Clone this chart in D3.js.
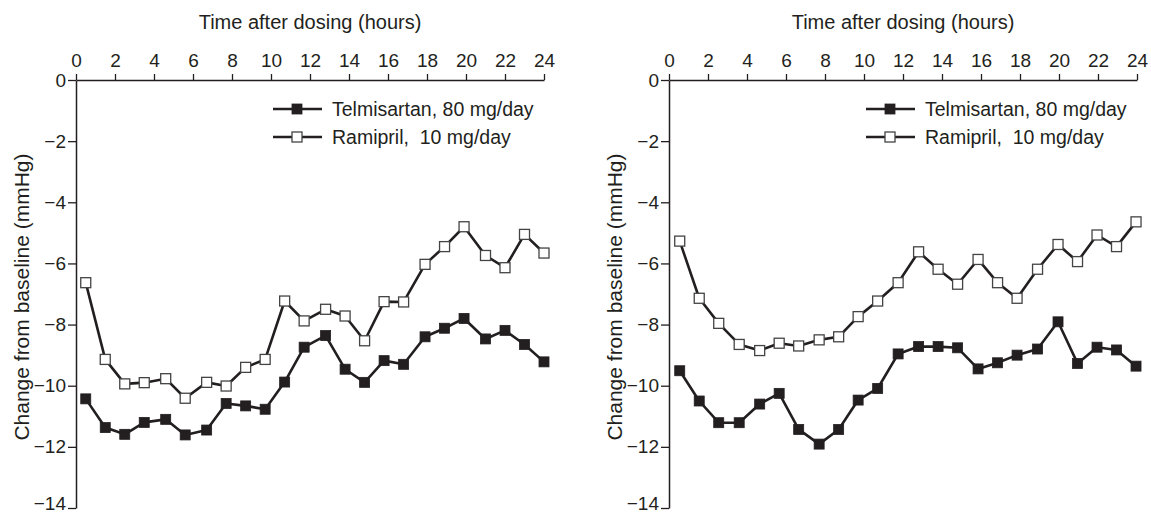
<!DOCTYPE html>
<html lang="en">
<head>
  <meta charset="UTF-8">
  <title>Telmisartan vs Ramipril</title>
  <script src="https://d3js.org/d3.v7.min.js"></script>
  <style>
    body {
      margin: 0;
      background: #fff;
      font-family: 'Liberation Sans', Arial, sans-serif;
    }
    .tick text { font-size: 19px; fill: #231f20; }
  </style>
</head>
<body>
  <svg id="chart" width="1151" height="514"></svg>

  <script>
    // Data
    const hoursLeft = [0.5, 1.5, 2.5, 3.5, 4.6, 5.6, 6.7, 7.7, 8.7, 9.7, 10.7, 11.7,
      12.8, 13.8, 14.8, 15.8, 16.8, 17.9, 18.9, 19.9, 21.0, 22.0, 23.0, 24.0];
    const hoursRight = [0.55, 1.55, 2.55, 3.6, 4.65, 5.65, 6.65, 7.7, 8.7, 9.7, 10.7, 11.75,
      12.8, 13.8, 14.8, 15.85, 16.85, 17.85, 18.9, 19.95, 20.95, 21.95, 22.95, 23.95];

    const telmiLeft = [-10.43, -11.37, -11.59, -11.2, -11.1, -11.61, -11.45, -10.58, -10.66, -10.77,
      -9.88, -8.74, -8.36, -9.46, -9.89, -9.18, -9.3, -8.4, -8.12, -7.8, -8.47, -8.19, -8.65, -9.22];
    const ramiLeft = [-6.63, -9.14, -9.94, -9.9, -9.77, -10.41, -9.89, -10.01, -9.4, -9.14,
      -7.23, -7.88, -7.5, -7.72, -8.53, -7.25, -7.26, -6.03, -5.45, -4.8, -5.74, -6.14, -5.05, -5.66];

    const telmiRight = [-9.51, -10.5, -11.21, -11.21, -10.6, -10.25, -11.43, -11.91, -11.43, -10.47,
      -10.09, -8.96, -8.72, -8.72, -8.76, -9.45, -9.25, -9.0, -8.8, -7.91, -9.27, -8.74, -8.83, -9.36];
    const ramiRight = [-5.27, -7.14, -7.96, -8.65, -8.85, -8.61, -8.7, -8.5, -8.4, -7.74,
      -7.23, -6.63, -5.62, -6.19, -6.68, -5.87, -6.63, -7.14, -6.19, -5.38, -5.94, -5.07, -5.45, -4.64];

    const xTicks = [0, 2, 4, 6, 8, 10, 12, 14, 16, 18, 20, 22, 24];
    const yTicks = [0, -2, -4, -6, -8, -10, -12, -14];
    const seriesNames = ['Telmisartan, 80 mg/day', 'Ramipril,  10 mg/day'];

    const ink = '#231f20';
    const svg = d3.select('#chart');

    function drawPanel(left, hours, telmi, rami) {
      const width = 468, height = 428, top = 80;
      const g = svg.append('g').attr('transform', `translate(${left},${top})`);

      const x = d3.scaleLinear().domain([0, 24]).range([0, width]);
      const y = d3.scaleLinear().domain([-14, 0]).range([height, 0]);

      // axes
      const xAxis = g.append('g')
        .call(d3.axisTop(x).tickValues(xTicks).tickSize(6).tickPadding(7).tickSizeOuter(0));
      const yAxis = g.append('g')
        .call(d3.axisLeft(y).tickValues(yTicks).tickSize(8).tickPadding(2).tickSizeOuter(0)
          .tickFormat(d => d === 0 ? '0' : '\u2212' + Math.abs(d)));
      [xAxis, yAxis].forEach(a => {
        a.select('.domain').attr('stroke', ink).attr('stroke-width', 1.5);
        a.selectAll('.tick line').attr('stroke', ink).attr('stroke-width', 1.3);
        a.selectAll('.tick text').style('font-family', "'Liberation Sans', Arial, sans-serif");
      });
      // bottom label sits on the window edge; lift it a little so it stays whole
      yAxis.selectAll('.tick text').filter(d => d === -14).attr('dy', '0.1em');

      g.append('text')
        .attr('x', width / 2).attr('y', -51)
        .attr('text-anchor', 'middle')
        .style('font-size', '20px').attr('fill', ink)
        .text('Time after dosing (hours)');

      g.append('text')
        .attr('transform', `translate(-47,${y(-7.1)}) rotate(-90)`)
        .attr('text-anchor', 'middle')
        .style('font-size', '21px').attr('fill', ink)
        .text('Change from baseline (mmHg)');

      const line = d3.line().x((d, i) => x(hours[i])).y(d => y(d));

      const series = [
        { values: telmi, fill: ink },
        { values: rami, fill: '#fff' }
      ];

      series.forEach(s => {
        g.append('path')
          .datum(s.values)
          .attr('fill', 'none')
          .attr('stroke', ink)
          .attr('stroke-width', 2.6)
          .attr('stroke-linejoin', 'round')
          .attr('d', line);
        g.selectAll(null)
          .data(s.values)
          .join('rect')
          .attr('x', (d, i) => x(hours[i]) - 5)
          .attr('y', d => y(d) - 5)
          .attr('width', 10).attr('height', 10)
          .attr('fill', s.fill)
          .attr('stroke', s.fill === '#fff' ? '#444' : ink)
          .attr('stroke-width', s.fill === '#fff' ? 1.3 : 0.8);
      });

      // legend
      const legend = g.append('g').attr('transform', `translate(197,0)`);
      series.forEach((s, i) => {
        const ly = 29 + i * 28;
        legend.append('line')
          .attr('x1', 0).attr('x2', 49).attr('y1', ly).attr('y2', ly)
          .attr('stroke', ink).attr('stroke-width', 2.6);
        legend.append('rect')
          .attr('x', 24 - 5).attr('y', ly - 5).attr('width', 10).attr('height', 10)
          .attr('fill', s.fill)
          .attr('stroke', s.fill === '#fff' ? '#444' : ink)
          .attr('stroke-width', s.fill === '#fff' ? 1.3 : 0.8);
        legend.append('text')
          .attr('x', 59).attr('y', ly + 7)
          .style('font-size', '19.5px').attr('fill', ink)
          .style('white-space', 'pre')
          .text(seriesNames[i]);
      });
    }

    drawPanel(76, hoursLeft, telmiLeft, ramiLeft);
    drawPanel(669, hoursRight, telmiRight, ramiRight);
  </script>
</body>
</html>
